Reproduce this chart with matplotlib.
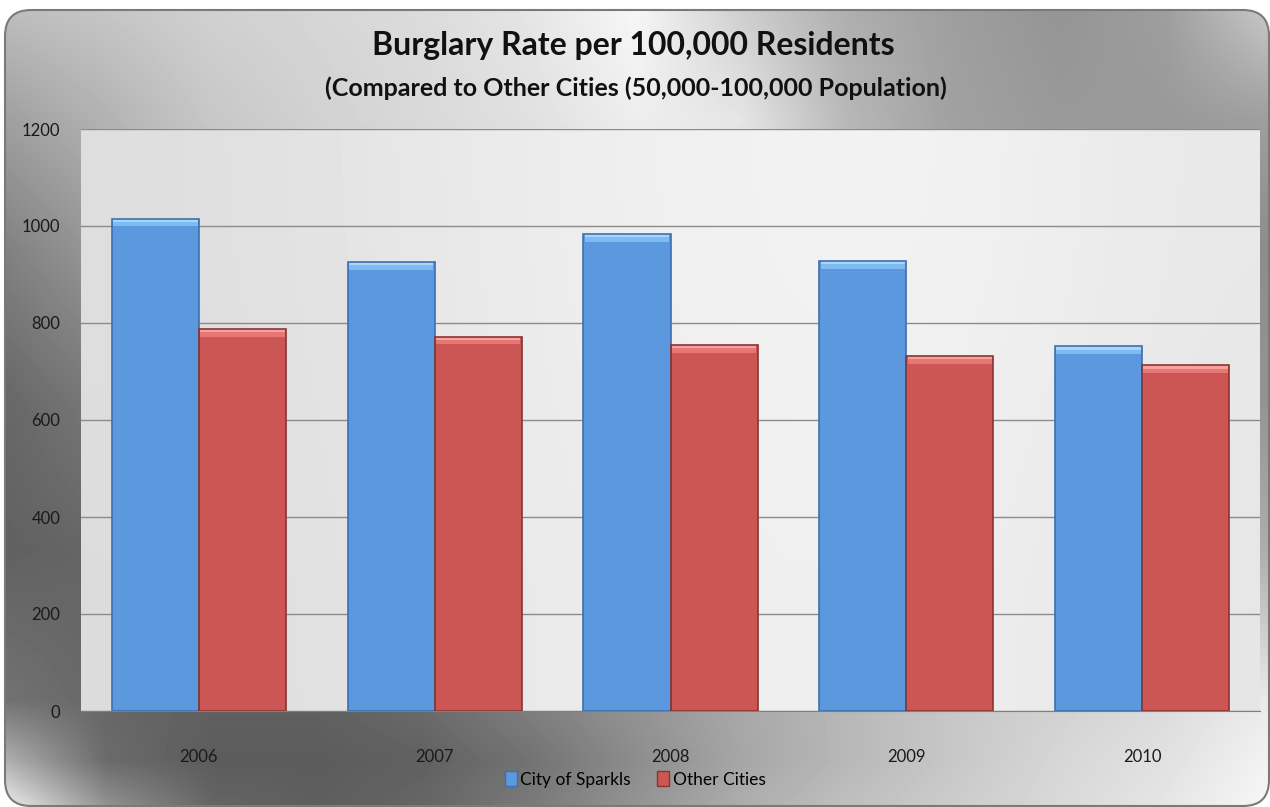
import numpy as np
import matplotlib.pyplot as plt
from matplotlib.patches import FancyBboxPatch, Patch

# ==== data ====
years = ["2006", "2007", "2008", "2009", "2010"]
sparks = [1015, 926, 984, 928, 752]     # City of Sparkls
others = [788, 772, 755, 732, 713]      # Other Cities

BLUE, BLUE_TOP, BLUE_HI, BLUE_EDGE = "#5b98de", "#7fbaf0", "#a6d6fb", "#3e6fae"
RED, RED_TOP, RED_HI, RED_EDGE = "#cc5654", "#e67774", "#f7a09c", "#8a3432"

plt.rcParams['font.family'] = ['Lato', 'DejaVu Sans']

fig = plt.figure(figsize=(12.7, 8.07), dpi=100)
fig.patch.set_facecolor("white")

# ---- metallic background (coarse grey levels, smoothed) ----
ys = [0, 120, 250, 400, 550, 700, 760, 807]
xs = np.linspace(0, 1270, 13)
levels = np.array([
    [0.75, 0.78, 0.82, 0.84, 0.86, 0.90, 0.97, 0.80, 0.68, 0.62, 0.58, 0.62, 0.80],
    [0.62, 0.70, 0.78, 0.82, 0.85, 0.88, 0.93, 0.90, 0.72, 0.63, 0.60, 0.60, 0.62],
    [0.50, 0.60, 0.70, 0.75, 0.78, 0.80, 0.82, 0.80, 0.70, 0.62, 0.58, 0.56, 0.55],
    [0.40, 0.48, 0.55, 0.60, 0.65, 0.68, 0.70, 0.70, 0.68, 0.64, 0.60, 0.58, 0.58],
    [0.38, 0.40, 0.45, 0.50, 0.55, 0.60, 0.64, 0.68, 0.70, 0.70, 0.70, 0.69, 0.68],
    [0.45, 0.40, 0.38, 0.38, 0.42, 0.50, 0.58, 0.66, 0.72, 0.78, 0.82, 0.86, 0.92],
    [0.70, 0.42, 0.36, 0.36, 0.38, 0.45, 0.55, 0.65, 0.72, 0.78, 0.84, 0.88, 0.95],
    [0.95, 0.58, 0.40, 0.37, 0.40, 0.48, 0.58, 0.68, 0.75, 0.80, 0.85, 0.90, 0.97],
])
px = np.arange(1270)
py = np.arange(807)
rows = np.array([np.interp(px, xs, r) for r in levels])
shade = np.array([np.interp(py, ys, rows[:, i]) for i in range(len(px))]).T

bg = fig.add_axes([0, 0, 1, 1], zorder=0)
bg.set_xlim(0, 1270)
bg.set_ylim(807, 0)
bg.axis("off")
img = bg.imshow(shade, cmap="gray", vmin=0, vmax=1, extent=[0, 1270, 807, 0],
                interpolation="bilinear", aspect="auto")
frame = FancyBboxPatch((5, 10), 1264, 796, boxstyle="round,pad=0,rounding_size=26",
                       fc="none", ec="#7a7a7a", lw=1.5)
bg.add_patch(frame)
img.set_clip_path(frame)

# ---- plot area ----
ax = fig.add_axes([81 / 1270, 96 / 807, 1179 / 1270, 582 / 807], zorder=1)
x = np.arange(len(years))
w = 0.369
ax.set_xlim(-0.5, 4.5)
ax.set_ylim(0, 1200)
plot_shade = np.array([
    [0.87, 0.90, 0.93, 0.95, 0.95, 0.91],
    [0.86, 0.89, 0.92, 0.94, 0.93, 0.90],
])
ax.imshow(plot_shade, cmap="gray", vmin=0, vmax=1, extent=[-0.5, 4.5, 0, 1200],
          aspect="auto", interpolation="bicubic", zorder=0)

ax.set_yticks(range(0, 1201, 200))
ax.yaxis.grid(True, color="#8c8c8c", lw=1)
ax.set_axisbelow(True)

# bars with a bevelled top
s = np.array(sparks)
o = np.array(others)
for xpos, vals, base, top, hi, edge in [(x - w / 2, s, BLUE, BLUE_TOP, BLUE_HI, BLUE_EDGE),
                                        (x + w / 2, o, RED, RED_TOP, RED_HI, RED_EDGE)]:
    ax.bar(xpos, vals, w, color=base, lw=0, zorder=2)
    ax.bar(xpos, 16, w * 0.97, bottom=vals - 16, color=top, lw=0, zorder=3)
    ax.bar(xpos, 7, w * 0.97, bottom=vals - 7, color=hi, lw=0, zorder=3)
    ax.bar(xpos, vals, w, fill=False, edgecolor=edge, lw=1.2, zorder=4)

ax.set_xticks(x)
ax.set_xticklabels(years)
for sp in ["top", "left", "right"]:
    ax.spines[sp].set_visible(False)
ax.spines["bottom"].set_color("#7f7f7f")
ax.tick_params(axis="both", length=0, labelsize=12, labelcolor="#1a1a1a")
ax.tick_params(axis="y", pad=15)
ax.tick_params(axis="x", pad=27)

fig.text(0.499, 0.943, "Burglary Rate per 100,000 Residents", ha="center", va="center",
         fontsize=23, fontweight="bold", color="#111111")
fig.text(0.501, 0.891, "(Compared to Other Cities (50,000-100,000 Population)", ha="center",
         va="center", fontsize=18, fontweight="bold", color="#111111")

handles = [Patch(facecolor=BLUE, edgecolor=BLUE_EDGE), Patch(facecolor=RED, edgecolor=RED_EDGE)]
fig.legend(handles, ["City of Sparkls", "Other Cities"], loc="center", bbox_to_anchor=(0.5, 0.034),
           ncol=2, frameon=False, fontsize=12.5, handlelength=0.7, handleheight=0.9,
           columnspacing=1.5, handletextpad=0.2)

fig.savefig("out.png", dpi=100)
